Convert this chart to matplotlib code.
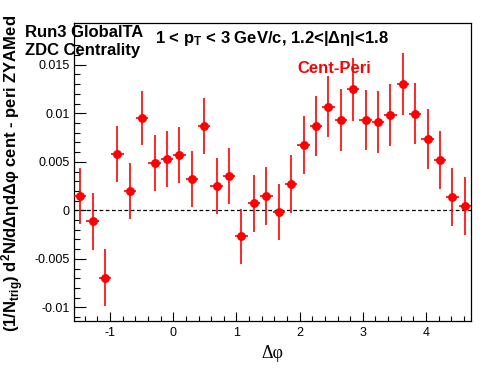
import numpy as np
import matplotlib
matplotlib.use("Agg")
import matplotlib.pyplot as plt
from matplotlib.ticker import MultipleLocator, FixedLocator

plt.rcParams['font.family'] = ['Liberation Sans', 'DejaVu Sans']
plt.rcParams['mathtext.fontset'] = 'custom'
plt.rcParams['mathtext.rm'] = 'Liberation Sans:bold'
plt.rcParams['mathtext.bf'] = 'Liberation Sans:bold'
plt.rcParams['mathtext.it'] = 'Liberation Sans:bold'

# 32 bins in delta phi from -pi/2 to 3pi/2
n_bins = 32
dphi_low, dphi_high = -np.pi / 2, 3 * np.pi / 2
values = [0.00145, -0.00114, -0.00693, 0.0058, 0.00197, 0.00952, 0.00486, 0.00528,
          0.00569, 0.0032, 0.00872, 0.00248, 0.00352, -0.00269, 0.00072, 0.00145,
          -0.0002, 0.00269, 0.00672, 0.00869, 0.01069, 0.00931, 0.01245, 0.00931,
          0.00914, 0.00983, 0.0130, 0.00997, 0.00738, 0.0052, 0.00138, 0.00041]
errors = [0.0029, 0.0029, 0.0029, 0.0029, 0.0029, 0.0028, 0.0029, 0.0029,
          0.0029, 0.0029, 0.0029, 0.0029, 0.0029, 0.0028, 0.0029, 0.0030,
          0.0029, 0.0030, 0.0030, 0.0031, 0.0031, 0.0032, 0.0032, 0.0031,
          0.0032, 0.0032, 0.0032, 0.0031, 0.0031, 0.0030, 0.0030, 0.0030]
y_min, y_max = -0.0114, 0.0193

edges = np.linspace(dphi_low, dphi_high, n_bins + 1)
centers = 0.5 * (edges[:-1] + edges[1:])
half = 0.5 * (edges[1] - edges[0])

fig = plt.figure(figsize=(4.96, 3.74), dpi=100)
ax = fig.add_axes([74 / 496, 1 - 321 / 374, (471 - 74) / 496, (321 - 23) / 374])

ax.axhline(0, color='black', lw=0.9, ls=(0, (3, 2)), zorder=1)
ax.errorbar(centers, values, yerr=errors, xerr=half, fmt='o', color='#ff0000',
            ms=5.4, elinewidth=1.2, capsize=0, zorder=3)

ax.set_xlim(dphi_low, dphi_high)
ax.set_ylim(y_min, y_max)
ax.xaxis.set_major_locator(FixedLocator([-1, 0, 1, 2, 3, 4]))
ax.xaxis.set_minor_locator(MultipleLocator(0.2))
ax.yaxis.set_major_locator(FixedLocator([-0.01, -0.005, 0, 0.005, 0.01, 0.015]))
ax.yaxis.set_minor_locator(MultipleLocator(0.001))
ax.set_yticklabels(['-0.01', '-0.005', '0', '0.005', '0.01', '0.015'])
ax.set_xticklabels(['-1', '0', '1', '2', '3', '4'])
ax.tick_params(axis='both', which='both', direction='in', labelsize=9, width=0.8)
ax.tick_params(axis='y', which='major', length=8.6, pad=3)
ax.tick_params(axis='y', which='minor', length=4.3)
ax.tick_params(axis='x', which='major', length=6.5, pad=4)
ax.tick_params(axis='x', which='minor', length=3.3)
for s in ax.spines.values():
    s.set_linewidth(0.9)

fig.text(272 / 496, 1 - 358 / 374, 'Δφ', fontsize=13, ha='center', va='baseline',
         family=['Liberation Serif', 'DejaVu Serif'])
fig.text(13 / 496, 1 - 173 / 374,
         r'(1/N$_{\mathbf{trig}}$) d$^{\mathbf{2}}$N/dΔηdΔφ cent - peri ZYAMed',
         fontsize=12, fontweight='bold', rotation=90, ha='center', va='center')

fig.text(25 / 496, 1 - 37 / 374, 'Run3 GlobalTA', fontsize=12, fontweight='bold', va='baseline')
fig.text(25 / 496, 1 - 55 / 374, 'ZDC Centrality', fontsize=12, fontweight='bold', va='baseline')
fig.text(155 / 496, 1 - 43 / 374, r'1 < p$_{\mathbf{T}}$ < 3 GeV/c, 1.2<|Δη|<1.8',
         fontsize=12, fontweight='bold', va='baseline')
fig.text(297 / 496, 1 - 73 / 374, 'Cent-Peri', fontsize=12, fontweight='bold',
         color='#ff0000', va='baseline')

fig.savefig('out.png', dpi=100)
